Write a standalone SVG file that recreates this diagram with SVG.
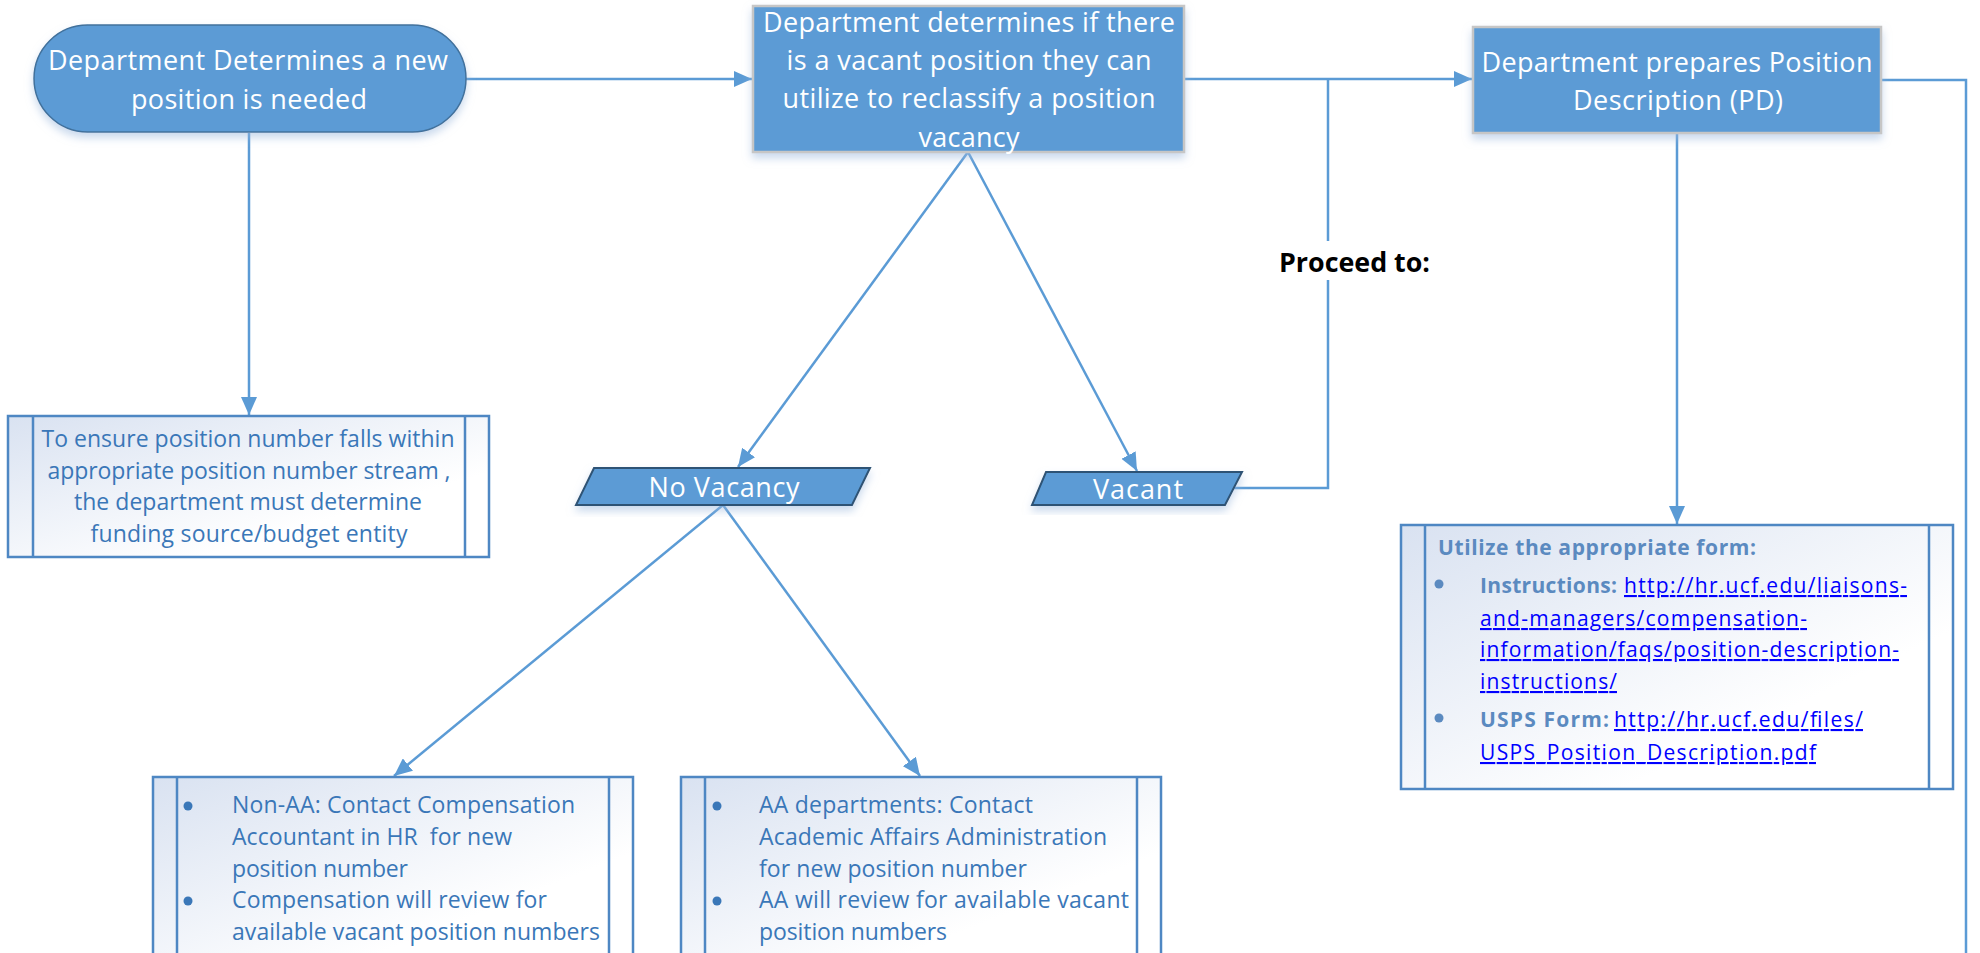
<svg xmlns="http://www.w3.org/2000/svg" width="1980" height="953" viewBox="0 0 1980 953">
  <style>
    .node { fill: #5B9BD5; }
    .term { stroke: #41719C; stroke-width: 1.5; }
    .proc { stroke: #C6C6C6; stroke-width: 2.5; }
    .io { stroke: #2F5374; stroke-width: 2; }
    .pre { fill: url(#preFill); stroke: #4E87C3; stroke-width: 2.5; }
    .preLine { stroke: #4E87C3; stroke-width: 2.5; }
    .wt { font-family: "Open Sans", "Liberation Sans", sans-serif; font-size: 27px; fill: #FFFFFF; text-anchor: middle; }
    .bt { font-family: "Open Sans", "Liberation Sans", sans-serif; font-size: 23px; fill: #3A77B8; }
    .btc { text-anchor: middle; }
    .ft { font-family: "Open Sans", "Liberation Sans", sans-serif; font-size: 21px; }
    .fb { font-weight: bold; fill: #5B8AC0; }
    .lnk { fill: #0000FF; text-decoration: underline; }
    .dot { fill: #3A77B8; }
    .edge { fill: none; stroke: #5B9BD5; stroke-width: 2.5; }
    .lbl { font-family: "Open Sans", "Liberation Sans", sans-serif; font-size: 26px; font-weight: bold; fill: #000000; }
  </style>
  <defs>
    <linearGradient id="preFill" x1="0" y1="0" x2="1" y2="1">
      <stop offset="0" stop-color="#D9E2F1"/>
      <stop offset="0.7" stop-color="#FFFFFF"/>
    </linearGradient>
    <filter id="shadow" x="-10%" y="-20%" width="120%" height="150%">
      <feDropShadow dx="0" dy="5" stdDeviation="4" flood-color="#9DB9DE" flood-opacity="0.55"/>
    </filter>
    <marker id="arrow" markerUnits="userSpaceOnUse" markerWidth="20" markerHeight="16" refX="18" refY="8" orient="auto">
      <path d="M0,0 L18,8 L0,16 Z" fill="#5B9BD5"/>
    </marker>
  </defs>

  <!-- connectors -->
  <g id="connectors">
    <path class="edge" d="M466,79 H752" marker-end="url(#arrow)"/>
    <path class="edge" d="M249,133 V415" marker-end="url(#arrow)"/>
    <path class="edge" d="M1184,79 H1472" marker-end="url(#arrow)"/>
    <path class="edge" d="M1328,79 V241"/>
    <path class="edge" d="M1328,280 V488 H1233"/>
    <path class="edge" d="M968,152 L738,467" marker-end="url(#arrow)"/>
    <path class="edge" d="M968,152 L1137,471" marker-end="url(#arrow)"/>
    <path class="edge" d="M723,505 L394,776" marker-end="url(#arrow)"/>
    <path class="edge" d="M723,505 L920,776" marker-end="url(#arrow)"/>
    <path class="edge" d="M1677,133 V524" marker-end="url(#arrow)"/>
    <path class="edge" d="M1881,80 H1966 V953"/>
    <text class="lbl" x="1279" y="272" textLength="151" lengthAdjust="spacingAndGlyphs">Proceed to:</text>
  </g>

  <!-- start terminal -->
  <g id="start">
    <rect class="node term" x="34" y="25" width="432" height="107" rx="53.5" ry="53.5" filter="url(#shadow)"/>
    <text class="wt" x="248" y="70" textLength="400" lengthAdjust="spacing">Department Determines a new</text>
    <text class="wt" x="249" y="109" textLength="236" lengthAdjust="spacing">position is needed</text>
  </g>

  <!-- vacancy check -->
  <g id="check-vacancy">
    <rect class="node proc" x="753" y="6" width="431" height="146" filter="url(#shadow)"/>
    <text class="wt" x="969" y="32" textLength="412" lengthAdjust="spacing">Department determines if there</text>
    <text class="wt" x="969" y="70" textLength="365" lengthAdjust="spacing">is a vacant position they can</text>
    <text class="wt" x="969" y="108" textLength="373" lengthAdjust="spacing">utilize to reclassify a position</text>
    <text class="wt" x="969" y="147" textLength="101" lengthAdjust="spacing">vacancy</text>
  </g>

  <!-- position description -->
  <g id="prepare-pd">
    <rect class="node proc" x="1473" y="27" width="408" height="106" filter="url(#shadow)"/>
    <text class="wt" x="1677" y="72" textLength="391" lengthAdjust="spacing">Department prepares Position</text>
    <text class="wt" x="1678" y="110" textLength="210" lengthAdjust="spacing">Description (PD)</text>
  </g>

  <!-- funding note -->
  <g id="funding">
    <rect class="pre" x="8" y="416" width="481" height="141"/>
    <line class="preLine" x1="33" y1="416" x2="33" y2="557"/>
    <line class="preLine" x1="465" y1="416" x2="465" y2="557"/>
    <text class="bt btc" x="248" y="447" textLength="413" lengthAdjust="spacing">To ensure position number falls within</text>
    <text class="bt btc" x="249" y="479" textLength="403" lengthAdjust="spacing">appropriate position number stream ,</text>
    <text class="bt btc" x="248" y="510" textLength="348" lengthAdjust="spacing">the department must determine</text>
    <text class="bt btc" x="249" y="542" textLength="317" lengthAdjust="spacing">funding source/budget entity</text>
  </g>

  <!-- no vacancy -->
  <g id="no-vacancy">
    <polygon class="node io" points="594,468 870,468 852,505 576,505" filter="url(#shadow)"/>
    <text class="wt" x="724" y="497" textLength="151" lengthAdjust="spacing">No Vacancy</text>
  </g>

  <!-- vacant -->
  <g id="vacant">
    <polygon class="node io" points="1046,472 1242,472 1225,505 1032,505" filter="url(#shadow)"/>
    <text class="wt" x="1138" y="499" textLength="90" lengthAdjust="spacing">Vacant</text>
  </g>

  <!-- non-AA contact -->
  <g id="non-aa">
    <rect class="pre" x="153" y="777" width="480" height="190"/>
    <line class="preLine" x1="177" y1="777" x2="177" y2="967"/>
    <line class="preLine" x1="609" y1="777" x2="609" y2="967"/>
    <circle class="dot" cx="188" cy="806" r="4.5"/>
    <circle class="dot" cx="188" cy="901" r="4.5"/>
    <text class="bt" x="232" y="813" textLength="343" lengthAdjust="spacing">Non-AA: Contact Compensation</text>
    <text class="bt" x="232" y="845" textLength="280" lengthAdjust="spacing" xml:space="preserve">Accountant in HR  for new</text>
    <text class="bt" x="232" y="877" textLength="176" lengthAdjust="spacing">position number</text>
    <text class="bt" x="232" y="908" textLength="315" lengthAdjust="spacing">Compensation will review for</text>
    <text class="bt" x="232" y="940" textLength="368" lengthAdjust="spacing">available vacant position numbers</text>
  </g>

  <!-- AA contact -->
  <g id="aa">
    <rect class="pre" x="681" y="777" width="480" height="190"/>
    <line class="preLine" x1="705" y1="777" x2="705" y2="967"/>
    <line class="preLine" x1="1137" y1="777" x2="1137" y2="967"/>
    <circle class="dot" cx="717" cy="806" r="4.5"/>
    <circle class="dot" cx="717" cy="901" r="4.5"/>
    <text class="bt" x="759" y="813" textLength="274" lengthAdjust="spacing">AA departments: Contact</text>
    <text class="bt" x="759" y="845" textLength="348" lengthAdjust="spacing">Academic Affairs Administration</text>
    <text class="bt" x="759" y="877" textLength="268" lengthAdjust="spacing">for new position number</text>
    <text class="bt" x="759" y="908" textLength="370" lengthAdjust="spacing">AA will review for available vacant</text>
    <text class="bt" x="759" y="940" textLength="188" lengthAdjust="spacing">position numbers</text>
  </g>

  <!-- forms -->
  <g id="forms">
    <rect class="pre" x="1401" y="525" width="552" height="264"/>
    <line class="preLine" x1="1425" y1="525" x2="1425" y2="789"/>
    <line class="preLine" x1="1929" y1="525" x2="1929" y2="789"/>
    <text class="ft fb" x="1438" y="555" textLength="318" lengthAdjust="spacing">Utilize the appropriate form:</text>
    <circle cx="1439" cy="584" r="4.5" fill="#5B8AC0"/>
    <text class="ft fb" x="1480" y="593" textLength="137" lengthAdjust="spacing">Instructions:</text>
    <text class="ft lnk" x="1624" y="593" textLength="283" lengthAdjust="spacing">http://hr.ucf.edu/liaisons-</text>
    <text class="ft lnk" x="1480" y="626" textLength="327" lengthAdjust="spacing">and-managers/compensation-</text>
    <text class="ft lnk" x="1480" y="657" textLength="419" lengthAdjust="spacing">information/faqs/position-description-</text>
    <text class="ft lnk" x="1480" y="689" textLength="137" lengthAdjust="spacing">instructions/</text>
    <circle cx="1439" cy="718" r="4.5" fill="#5B8AC0"/>
    <text class="ft fb" x="1480" y="727" textLength="129" lengthAdjust="spacing">USPS Form:</text>
    <text class="ft lnk" x="1614" y="727" textLength="249" lengthAdjust="spacing">http://hr.ucf.edu/files/</text>
    <text class="ft lnk" x="1480" y="760" textLength="336" lengthAdjust="spacing">USPS_Position_Description.pdf</text>
  </g>
</svg>
